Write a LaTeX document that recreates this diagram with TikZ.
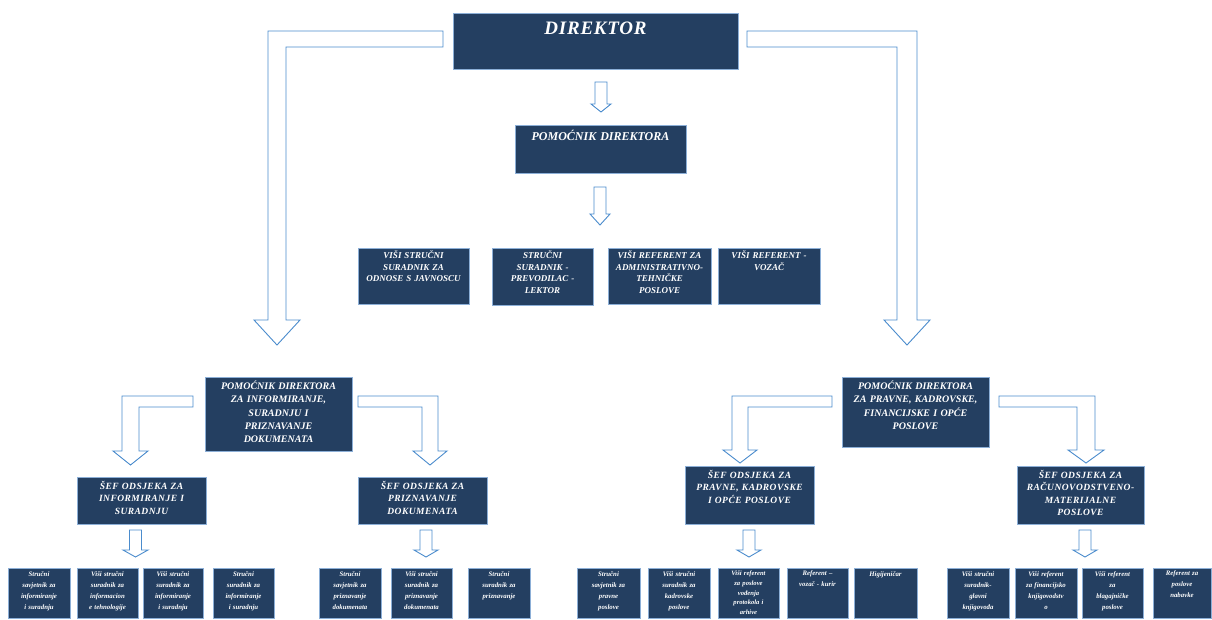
\documentclass[tikz,border=0pt]{standalone}
\usepackage{fontspec}
\setmainfont{Liberation Serif}
\usetikzlibrary{shadows}
\definecolor{navy}{RGB}{36,63,97}
\definecolor{boxline}{RGB}{140,175,215}
\definecolor{arrowblue}{RGB}{75,140,205}
\tikzset{
 box/.style={draw=boxline, fill=navy, line width=0.9pt, inner sep=0pt, outer sep=0pt, anchor=north west,
   drop shadow={shadow xshift=1pt, shadow yshift=-1.2pt, fill=black!60, opacity=0.6}},
 lab/.style={anchor=north, text=white, align=center, inner sep=0pt},
 tdir/.style={lab, font=\fontsize{19}{22}\selectfont\bfseries\itshape\addfontfeature{LetterSpace=4}, yshift=-9pt},
 tpom/.style={lab, font=\fontsize{12}{14}\selectfont\bfseries\itshape, yshift=-5pt},
 tmid/.style={lab, font=\fontsize{9}{11.7}\selectfont\bfseries\itshape, yshift=-2.5pt},
 tl2/.style={lab, font=\fontsize{10}{13.2}\selectfont\bfseries\itshape, yshift=-4pt},
 tsef/.style={lab, font=\fontsize{9.5}{12.5}\selectfont\bfseries\itshape\addfontfeature{LetterSpace=5}, yshift=-4pt},
 tbot/.style={lab, font=\fontsize{6.8}{11}\selectfont\bfseries\itshape, yshift=-3pt},
 tbotx/.style={lab, font=\fontsize{6.6}{9.6}\selectfont\bfseries\itshape, yshift=-3pt},
 barrow/.style={draw=arrowblue, fill=white, line width=0.9pt, line join=miter}
}
\newcommand\obox[7]{%
 \node[box, minimum width=#4pt, minimum height=#5pt, label={[#6, text width=#4pt]north:{#7}}] (#1) at (#2,#3) {};}
\begin{document}
\begin{tikzpicture}[x=1pt,y=-1pt]
\fill[white] (0,0) rectangle (1212,619);
\useasboundingbox (0,0) rectangle (1212,619);
% block arrows
\draw[barrow] (443,31) -- (268,31) -- (268,320) -- (254,320) -- (277,345) -- (300,320) -- (286,320) -- (286,47) -- (443,47) -- cycle;
\draw[barrow] (747,31) -- (917,31) -- (917,320) -- (930,320) -- (907,345) -- (884,320) -- (897,320) -- (897,47) -- (747,47) -- cycle;
\draw[barrow] (595,82) -- (607,82) -- (607,104) -- (611,104) -- (601,112) -- (591,104) -- (595,104) -- cycle;
\draw[barrow] (594,187) -- (606,187) -- (606,214) -- (610,214) -- (600,225) -- (590,214) -- (594,214) -- cycle;
\draw[barrow] (193,396) -- (122,396) -- (122,451) -- (113,451) -- (130.5,465) -- (148,451) -- (139,451) -- (139,407) -- (193,407) -- cycle;
\draw[barrow] (358,396) -- (438,396) -- (438,451) -- (447,451) -- (430,465) -- (413,451) -- (422,451) -- (422,407) -- (358,407) -- cycle;
\draw[barrow] (832,396) -- (732,396) -- (732,450) -- (723,450) -- (740,463) -- (757,450) -- (748,450) -- (748,407) -- (832,407) -- cycle;
\draw[barrow] (999,396) -- (1095,396) -- (1095,450) -- (1104,450) -- (1086,463) -- (1068,450) -- (1077,450) -- (1077,407) -- (999,407) -- cycle;
\draw[barrow] (129.5,530) -- (141.5,530) -- (141.5,550) -- (148,550) -- (135.5,557) -- (123,550) -- (129.5,550) -- cycle;
\draw[barrow] (420,530) -- (432,530) -- (432,550) -- (438,550) -- (426,557) -- (414,550) -- (420,550) -- cycle;
\draw[barrow] (743,530) -- (755,530) -- (755,550) -- (761,550) -- (749,557) -- (737,550) -- (743,550) -- cycle;
\draw[barrow] (1079,530) -- (1091,530) -- (1091,550) -- (1097,550) -- (1085,557) -- (1073,550) -- (1079,550) -- cycle;
% boxes
\obox{dir}{453}{13}{285}{56}{tdir}{DIREKTOR}
\obox{pom}{515}{125}{171}{48}{tpom}{POMOĆNIK DIREKTORA}
\obox{m1}{358}{248}{111}{56}{tmid}{VIŠI STRUČNI\\SURADNIK ZA\\ODNOSE S JAVNOSCU}
\obox{m2}{492}{248}{101}{57}{tmid}{STRUČNI\\SURADNIK -\\PREVODILAC -\\LEKTOR}
\obox{m3}{608}{248}{103}{56}{tmid}{VIŠI REFERENT ZA\\ADMINISTRATIVNO-\\TEHNIČKE\\POSLOVE}
\obox{m4}{718}{248}{102}{56}{tmid}{VIŠI REFERENT -\\VOZAČ}
\obox{pl}{205}{377}{147}{74}{tl2}{POMOĆNIK DIREKTORA\\ZA INFORMIRANJE,\\SURADNJU I\\PRIZNAVANJE\\DOKUMENATA}
\obox{pr}{842}{377}{147}{70}{tl2}{POMOĆNIK DIREKTORA\\ZA PRAVNE, KADROVSKE,\\FINANCIJSKE I OPĆE\\POSLOVE}
\obox{sl1}{77}{477}{129}{47}{tsef}{ŠEF ODSJEKA ZA\\INFORMIRANJE I\\SURADNJU}
\obox{sl2}{358}{477}{129}{47}{tsef}{ŠEF ODSJEKA ZA\\PRIZNAVANJE\\DOKUMENATA}
\obox{sr1}{685}{466}{129}{58}{tsef}{ŠEF ODSJEKA ZA\\PRAVNE, KADROVSKE\\I OPĆE POSLOVE}
\obox{sr2}{1017}{466}{127}{58}{tsef}{ŠEF ODSJEKA ZA\\RAČUNOVODSTVENO-\\MATERIJALNE\\POSLOVE}
% bottom row
\obox{b1}{8}{568}{62}{50}{tbot}{Stručni\\savjetnik za\\informiranje\\i suradnju}
\obox{b2}{77}{568}{61}{50}{tbot}{Viši stručni\\suradnik za\\informacion\\e tehnologije}
\obox{b3}{143}{568}{60}{50}{tbot}{Viši stručni\\suradnik za\\informiranje\\i suradnju}
\obox{b4}{213}{568}{61}{50}{tbot}{Stručni\\suradnik za\\informiranje\\i suradnju}
\obox{b5}{319}{568}{62}{50}{tbot}{Stručni\\savjetnik za\\priznavanje\\dokumenata}
\obox{b6}{391}{568}{61}{50}{tbot}{Viši stručni\\suradnik za\\priznavanje\\dokumenata}
\obox{b7}{468}{568}{62}{50}{tbot}{Stručni\\suradnik za\\priznavanje}
\obox{b8}{577}{568}{63}{50}{tbot}{Stručni\\savjetnik za\\pravne\\poslove}
\obox{b9}{648}{568}{62}{50}{tbot}{Viši stručni\\suradnik za\\kadrovske\\poslove}
\obox{b10}{718}{568}{61}{50}{tbotx}{Viši referent\\za poslove\\vođenja\\protokola i\\arhive}
\obox{b11}{787}{568}{61}{50}{tbot}{Referent –\\vozač - kurir}
\obox{b12}{854}{568}{63}{50}{tbot}{Higijeničar}
\obox{b13}{947}{568}{62}{50}{tbot}{Viši stručni\\suradnik-\\glavni\\knjigovođa}
\obox{b14}{1015}{568}{62}{50}{tbot}{Viši referent\\za financijsko\\knjigovodstv\\o}
\obox{b15}{1082}{568}{61}{50}{tbot}{Viši referent\\za\\blagajničke\\poslove}
\obox{b16}{1153}{568}{58}{50}{tbot}{Referent za\\poslove\\nabavke}
\end{tikzpicture}
\end{document}
